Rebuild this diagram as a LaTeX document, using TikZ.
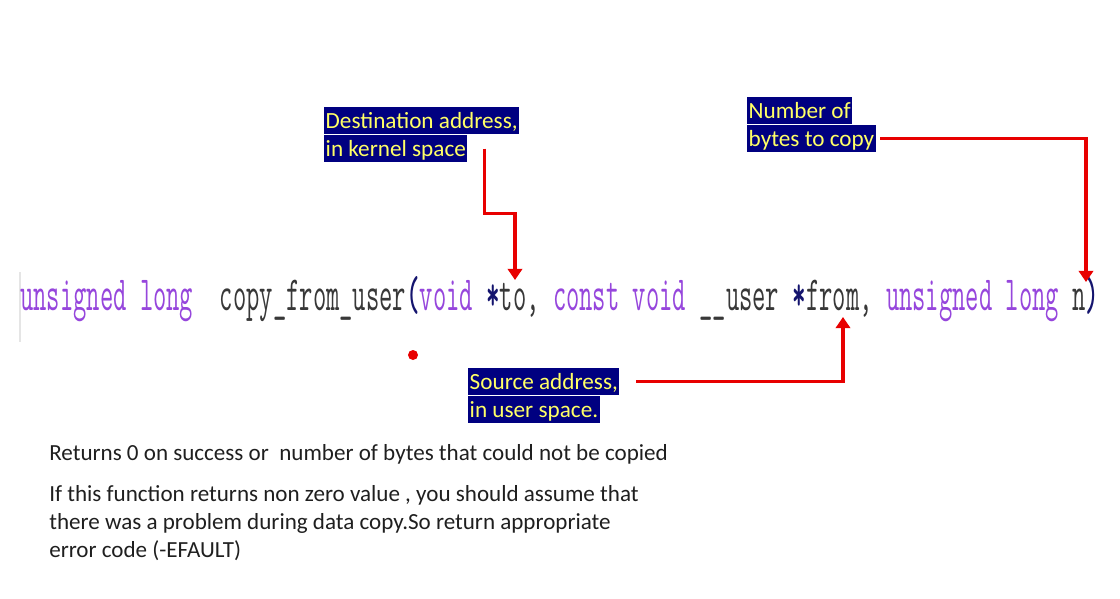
\documentclass[tikz,border=0pt]{standalone}
\usepackage{fontspec}
\setmainfont{Carlito}
\usetikzlibrary{arrows.meta,positioning}

\definecolor{hlnavy}{RGB}{0,0,128}
\definecolor{hlyellow}{RGB}{255,255,102}
\definecolor{kwpurple}{RGB}{150,70,220}
\definecolor{parblue}{RGB}{20,20,110}
\definecolor{ptrred}{RGB}{232,0,0}
\newcommand{\kw}[1]{\textcolor{kwpurple}{#1}}
\newcommand{\pn}[1]{\textcolor{parblue}{\bfseries #1}}

\tikzset{
  hilite/.style={fill=hlnavy, text=hlyellow, font=\fontsize{16.5}{20}\selectfont,
    inner xsep=1pt, inner ysep=0pt, text height=0.525cm, text depth=0.15cm, anchor=base west},
  callout/.style={draw=ptrred, line width=2.2pt, -{Triangle[length=0.28cm,width=0.36cm]}},
  note/.style={anchor=base west, inner sep=0pt, text=black!88, font=\fontsize{16.4}{19.9}\selectfont}
}

\begin{document}
\begin{tikzpicture}[x=0.025cm, y=-0.025cm]
\useasboundingbox (0,0) rectangle (1120,599);
% the code line
\draw[black!10, line width=0.8pt] (20,272) -- (20,342);
\node[anchor=base west, inner sep=0pt, text=black!78, font=\ttfamily\fontsize{35}{40}\selectfont] (code) at (20,310)
  {\scalebox{0.525}[1]{\kw{unsigned long}~~copy\_from\_user\pn{(}\kw{void} \pn{*}to, \kw{const void} \_\_user \pn{*}from, \kw{unsigned long} n\pn{)}}};
\coordinate (totip) at (515,280);
\coordinate (ntip) at (1086,282);
\coordinate (fromtip) at (843,317);
% labels
\node[hilite] (dest1) at (324,128) {Destination address,};
\node[hilite] (dest2) at (324,156) {in kernel space};
\node[hilite] (bytes1) at (747,118) {Number of};
\node[hilite] (bytes2) at (747,146) {bytes to copy};
\node[hilite] (src1) at (468,389) {Source address,};
\node[hilite] (src2) at (468,417) {in user space.};
% arrows
\draw[callout] ([xshift=12pt]dest2.east) -- ++(0,65) -| (totip);
\draw[callout] ([xshift=3pt]bytes2.east) -| (ntip);
\draw[callout] ([xshift=12pt]src1.east) -| (fromtip);
\fill[ptrred] (413,355) circle (5);
% notes
\node[note] (ret) at (49,460) {Returns 0 on success or\ \ number of bytes that could not be copied};
\node[note] (warn1) at (49,501) {If this function returns non zero value , you should assume that};
\node[note] (warn2) at (49,529) {there was a problem during data copy.So return appropriate};
\node[note] (warn3) at (49,557) {error code (-EFAULT)};
\end{tikzpicture}
\end{document}
